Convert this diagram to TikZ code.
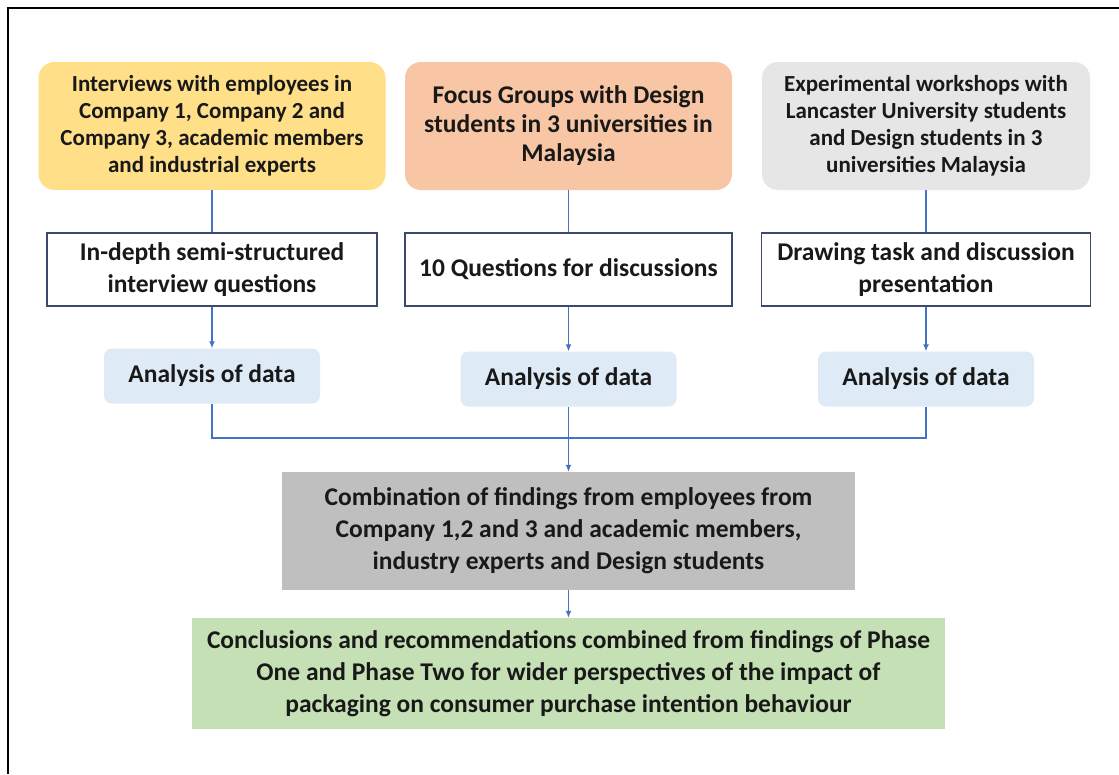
\documentclass[tikz,border=0pt]{standalone}
\usepackage{fontspec}
\setmainfont{Carlito}
\usetikzlibrary{arrows.meta}
\definecolor{intvyellow}{HTML}{FFDF88}
\definecolor{focusorange}{HTML}{F8C6A4}
\definecolor{wkspgray}{HTML}{E7E6E6}
\definecolor{anablue}{HTML}{DEEBF7}
\definecolor{combgray}{HTML}{BFBFBF}
\definecolor{conclgreen}{HTML}{C5E0B4}
\definecolor{linkblue}{HTML}{4472C4}
\definecolor{edgeslate}{HTML}{3B4A6B}
\tikzset{
  boxtext/.style={align=center,inner sep=0pt,text=black!90,
    font=\fontsize{25.5}{32}\selectfont\bfseries},
  smalltext/.style={font=\fontsize{23}{27}\selectfont\bfseries},
  sourcebox/.style={boxtext,rounded corners=16pt,minimum height=128pt},
  methodbox/.style={boxtext,draw=edgeslate,line width=1.2pt,fill=white,minimum height=73pt},
  anabox/.style={boxtext,fill=anablue,rounded corners=8pt,minimum width=216pt,minimum height=55pt},
  link/.style={draw=linkblue,line width=1.3pt},
  linkarrow/.style={link,-{Latex[length=7pt,width=6pt]}}
}
\begin{document}
\begin{tikzpicture}[x=1pt,y=-1pt]
			\useasboundingbox (0,0) rectangle (1119,774);
			\fill[white] (0,0) rectangle (1119,774);
			\path[draw,line width=2pt,black] (8,774) -- (8,8) -- (1119,8);
			
			% sources
			\node[sourcebox,smalltext,fill=intvyellow,minimum width=347pt] (intv) at (212,126)
			{Interviews with employees in\\Company 1, Company 2 and\\Company 3, academic members\\and industrial experts};
			\node[sourcebox,font=\fontsize{25.5}{29}\selectfont\bfseries,fill=focusorange,minimum width=327pt] (focus) at (568.5,126)
			{Focus Groups with Design\\students in 3 universities in\\Malaysia};
			\node[sourcebox,smalltext,fill=wkspgray,minimum width=328pt] (wksp) at (926,126)
			{Experimental workshops with\\Lancaster University students\\and Design students in 3\\universities Malaysia};
			
			% methods
			\node[methodbox,minimum width=330pt] (qint) at (212,269.5) {In-depth semi-structured\\interview questions};
			\node[methodbox,minimum width=327pt] (qfoc) at (568.5,269.5) {10 Questions for discussions};
			\node[methodbox,minimum width=329pt] (qdraw) at (926,269.5) {Drawing task and discussion\\presentation};
			
			% analysis
			\node[anabox] (ana1) at (212,376) {Analysis of data};
			\node[anabox] (ana2) at (568.5,379) {Analysis of data};
			\node[anabox] (ana3) at (926,379) {Analysis of data};
			
			\node[boxtext,fill=combgray,minimum width=573pt,minimum height=118pt] (comb) at (568.5,531)
			{Combination of findings from employees from\\Company 1,2 and 3 and academic members,\\industry experts and Design students};
			\node[boxtext,fill=conclgreen,minimum width=753pt,minimum height=111pt] (concl) at (568.5,673.5)
			{Conclusions and recommendations combined from findings of Phase\\One and Phase Two for wider perspectives of the impact of\\packaging on consumer purchase intention behaviour};
			
			\coordinate (join) at (568.5,438);
			
			\path[link] (intv) -- (qint);
			\path[link] (focus) -- (qfoc);
			\path[link] (wksp) -- (qdraw);
			\path[linkarrow] (qint) -- (ana1);
			\path[linkarrow] (qfoc) -- (ana2);
			\path[linkarrow] (qdraw) -- (ana3);
			\path[link] (ana1) |- (join) -| (ana3);
			\path[linkarrow] (ana2) -- (comb);
			\path[linkarrow] (comb) -- (concl);
			
\end{tikzpicture}
\end{document}
